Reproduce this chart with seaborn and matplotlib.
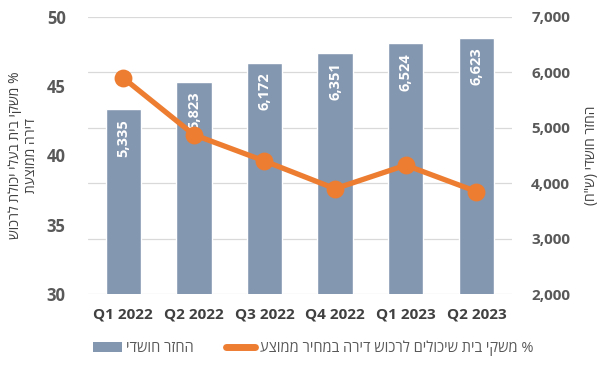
import numpy as np
import pandas as pd
import matplotlib
matplotlib.use("Agg")
import matplotlib.pyplot as plt
import seaborn as sns
from matplotlib.patches import Patch
from matplotlib.lines import Line2D

quarters = ["Q1 2022", "Q2 2022", "Q3 2022", "Q4 2022", "Q1 2023", "Q2 2023"]
monthly_payment = [5335, 5823, 6172, 6351, 6524, 6623]
pct_afford = [45.6, 41.5, 39.6, 37.6, 39.3, 37.4]

left_ticks = [30, 35, 40, 45, 50]
right_ticks = [2000, 3000, 4000, 5000, 6000, 7000]

# Hebrew strings given in visual (left-to-right) order, since matplotlib has no bidi
left_label = "שוכרל תלוכי ילעב תיב יקשמ %\n" + "תעצוממ הריד"
right_label = '(ח"ש) ידשוח רזחה'
legend_bar = "ידשוח רזחה"
legend_line = "עצוממ ריחמב הריד שוכרל םילוכיש תיב יקשמ %"

sns.set_theme(style="white")
plt.rcParams["font.family"] = ["Open Sans", "DejaVu Sans"]

bar_color = "#8497B0"
line_color = "#ED7D31"
text_color = "#595959"

fig = plt.figure(figsize=(6.02, 3.76), dpi=100)
ax = fig.add_axes([0.146, 0.218, 0.704, 0.737])
ax2 = ax.twinx()

df = pd.DataFrame({"q": quarters, "pay": monthly_payment, "pct": pct_afford})

sns.barplot(data=df, x="q", y="pay", ax=ax, color=bar_color, width=0.5,
            saturation=1, zorder=2)
ax.set_ylim(2000, 7000)
ax.set_yticks(right_ticks)
ax.set_yticklabels([f"{v:,}" for v in right_ticks])
ax.set_xlim(-0.5, len(quarters) - 0.5)
ax.yaxis.grid(True, color="#D9D9D9", lw=0.9)
ax.set_axisbelow(True)

for i, v in enumerate(monthly_payment):
    ax.annotate(f"{v:,}", xy=(i, v), xytext=(0, -7), textcoords="offset points",
                rotation=90, ha="center", va="top", color="white",
                fontsize=10.5, fontweight="bold")

sns.pointplot(data=df, x="q", y="pct", ax=ax2, color=line_color,
              markers="o", markersize=10, linewidth=3.8, zorder=5)
ax2.set_ylim(30, 50)
ax2.set_yticks(left_ticks)
ax2.set_xlim(-0.5, len(quarters) - 0.5)

ax.yaxis.tick_right()
ax.yaxis.set_label_position("right")
ax2.yaxis.tick_left()
ax2.yaxis.set_label_position("left")

for a in (ax, ax2):
    for s in a.spines.values():
        s.set_visible(False)
    a.tick_params(axis="both", length=0, colors=text_color, labelsize=11)
    for lbl in a.get_yticklabels():
        lbl.set_fontweight("bold")

ax2.tick_params(axis="y", labelsize=12)
ax.tick_params(axis="y", pad=14)
ax2.tick_params(axis="y", pad=16)
ax.tick_params(axis="x", labelsize=11, pad=10, colors="#404040")
for lbl in ax.get_xticklabels():
    lbl.set_fontweight("bold")

ax.set_xlabel("")
ax2.set_xlabel("")
ax.set_ylabel(right_label, rotation=90, fontsize=10, color="#404040", labelpad=10)
ax2.set_ylabel(left_label, rotation=90, fontsize=10, color="#404040", labelpad=6,
               linespacing=1.0)

handles = [Patch(facecolor=bar_color, edgecolor="none"),
           Line2D([0], [0], color=line_color, lw=5, solid_capstyle="round")]
fig.legend(handles, [legend_bar, legend_line], loc="center",
           bbox_to_anchor=(0.52, 0.074), ncol=2, frameon=False,
           fontsize=10.5, labelcolor=text_color, handlelength=2.0,
           handletextpad=0.3, columnspacing=2.2)

fig.savefig("out.png", dpi=100, facecolor="white")
